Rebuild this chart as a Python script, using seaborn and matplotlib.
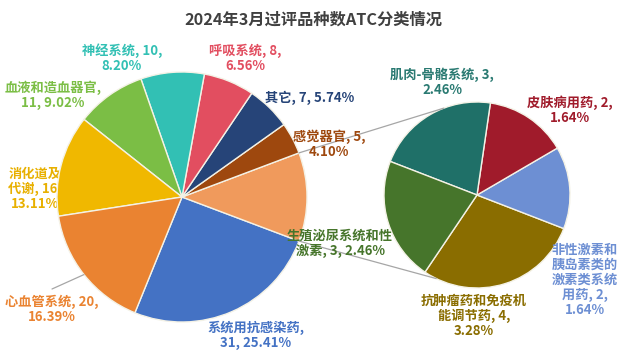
import numpy as np
import matplotlib
matplotlib.use("Agg")
import matplotlib.pyplot as plt
import seaborn as sns

# %% data
TITLE = "2024年3月过评品种数ATC分类情况"

main_names = ["系统用抗感染药", "其他", "感觉器官", "其它", "呼吸系统",
              "神经系统", "血液和造血器官", "消化道及代谢", "心血管系统"]
main_counts = [31, 14, 5, 7, 8, 10, 11, 16, 20]

sub_names = ["抗肿瘤药和免疫机能调节药", "非性激素和胰岛素类的激素类系统用药",
             "皮肤病用药", "肌肉-骨骼系统", "生殖泌尿系统和性激素"]
sub_counts = [4, 2, 2, 3, 3]

# %% style / layout
main_colors = ["#4472C4", "#F09A5C", "#9E480E", "#264478", "#E24E60",
               "#32C0B4", "#7BBE45", "#F0B800", "#EA8331"]
sub_colors = ["#8A6D00", "#6D8FD3", "#A01B2B", "#1F7068", "#46752B"]
label_colors_main = ["#4472C4", None, "#9E480E", "#264478", "#E24E60",
                     "#32C0B4", "#7BBE45", "#E8B000", "#EA8331"]
label_colors_sub = ["#8A6D00", "#6D8FD3", "#A01B2B", "#2A7A72", "#46752B"]

# label centre (pixel coords, y down), chars per line, tail style
main_label_layout = [(256, 335, 7, "b"), None, (329, 144, 4, "a"), (310, 98, 4, "c"),
                     (245, 58, 4, "a"), (122, 58, 4, "a"), (53, 95, 7, "b"),
                     (35, 189, 4, "a"), (52, 309, 5, "a")]
sub_label_layout = [(474, 316, 8, "a"), (585, 280, 5, "a"), (570, 110, 5, "a"),
                    (442, 82, 7, "a"), (340, 243, 8, "c")]

W, H = 626, 355
MAIN_C, MAIN_R = (182, H - 197), 125
SUB_C, SUB_R = (477, H - 195), 93
SUB_START = -124
CONNECT_SUB_ANGLES = (111, -116)

sns.set_theme(style="white")
plt.rcParams["font.family"] = ["Noto Sans CJK SC", "DejaVu Sans"]

total = sum(main_counts)


def make_label(name, n, width, style):
    lines = "\n".join(name[i:i + width] for i in range(0, len(name), width))
    pct = f"{n / total * 100:.2f}%"
    if style == "a":
        return f"{lines}, {n},\n{pct}"
    if style == "b":
        return f"{lines},\n{n}, {pct}"
    return f"{lines}, {n}, {pct}"


def polar(c, r, deg):
    a = np.deg2rad(deg)
    return c[0] + r * np.cos(a), c[1] + r * np.sin(a)


fig = plt.figure(figsize=(W / 100, H / 100), dpi=100)
ax = fig.add_axes([0, 0, 1, 1])

# "other" wedge centred on 0 degrees
main_start = -360 * (main_counts[0] + main_counts[1] / 2) / total
edge = dict(edgecolor="#F4F2E6", linewidth=1.0)
ax.pie(main_counts, colors=main_colors, startangle=main_start, counterclock=True,
       center=MAIN_C, radius=MAIN_R, wedgeprops=edge)
ax.pie(sub_counts, colors=sub_colors, startangle=SUB_START, counterclock=True,
       center=SUB_C, radius=SUB_R, wedgeprops=edge)

ax.set_xlim(0, W)
ax.set_ylim(0, H)
ax.set_aspect("equal")
ax.axis("off")

# connector lines between the two pies
other_lo = main_start + 360 * main_counts[0] / total
other_hi = other_lo + 360 * main_counts[1] / total
for a_main, a_sub in zip((other_hi, other_lo), CONNECT_SUB_ANGLES):
    p0 = polar(MAIN_C, MAIN_R, a_main)
    p1 = polar(SUB_C, SUB_R, a_sub)
    ax.plot([p0[0], p1[0]], [p0[1], p1[1]], color="#A6A6A6", lw=0.9, zorder=2)

# labels
for i, (name, n) in enumerate(zip(main_names, main_counts)):
    lay = main_label_layout[i]
    if lay is None:
        continue
    x, y, width, style = lay
    z = 0.5 if name == "消化道及代谢" else 3
    ax.text(x, H - y, make_label(name, n, width, style), ha="center", va="center",
            fontsize=9.5, fontweight="bold", color=label_colors_main[i],
            linespacing=1.1, zorder=z)

for i, (name, n) in enumerate(zip(sub_names, sub_counts)):
    x, y, width, style = sub_label_layout[i]
    ax.text(x, H - y, make_label(name, n, width, style), ha="center", va="center",
            fontsize=9.5, fontweight="bold", color=label_colors_sub[i],
            linespacing=1.1, zorder=3)

# leader line for 心血管系统
cum = np.cumsum([0] + main_counts)
k = main_names.index("心血管系统")
mid = main_start + 360 * (cum[k] + main_counts[k] / 2) / total
p0 = polar(MAIN_C, MAIN_R, mid)
ax.plot([p0[0], 52], [p0[1], H - 289], color="#A6A6A6", lw=0.9, zorder=2)

ax.text(W / 2, H - 20, TITLE, ha="center", va="center", fontsize=11.7,
        fontweight="bold", color="#404040")

fig.savefig("out.png", dpi=100)
